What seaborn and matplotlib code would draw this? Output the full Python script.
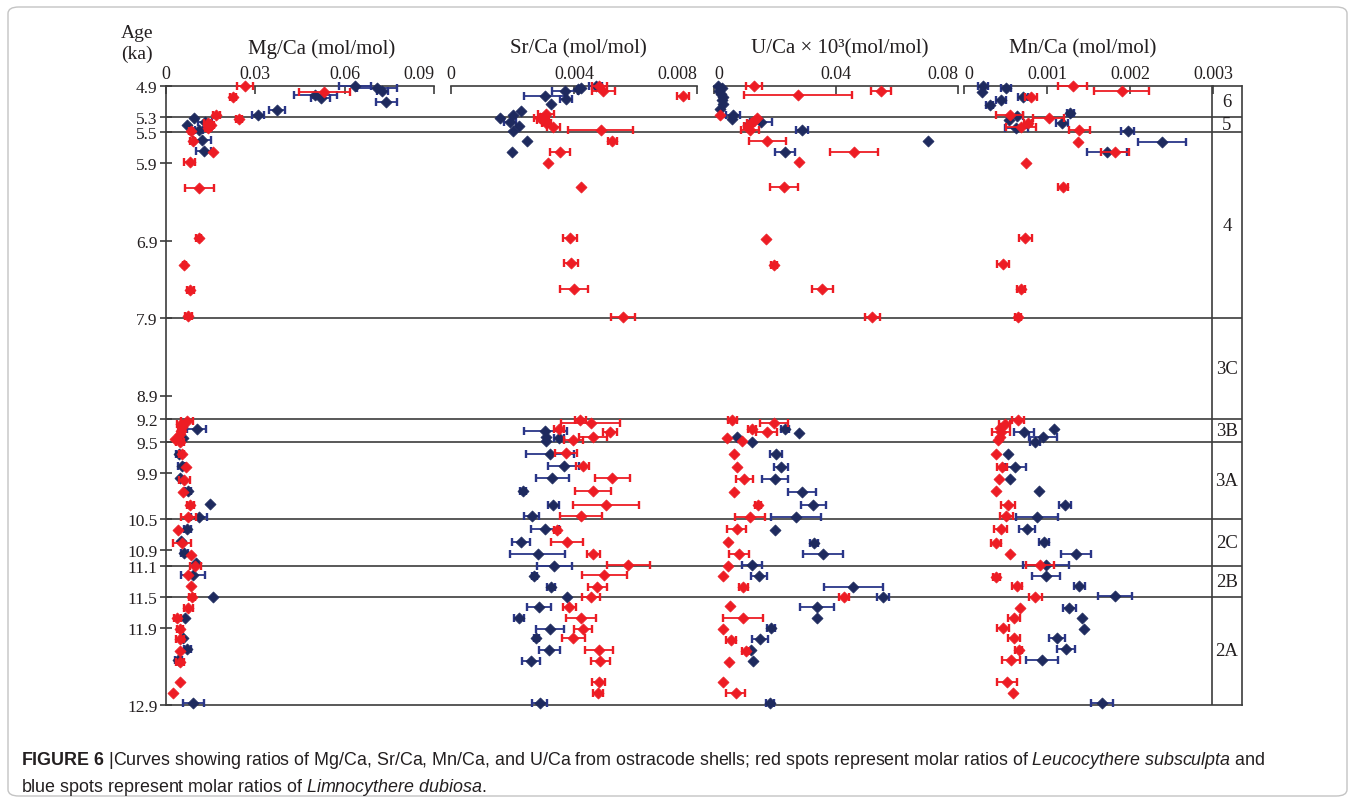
import numpy as np
import pandas as pd
import matplotlib
matplotlib.use("Agg")
import matplotlib.pyplot as plt
import seaborn as sns
from matplotlib.patches import FancyBboxPatch

# Ostracode shell ratios vs age, red = L. subsculpta, blue = L. dubiosa

zone_bounds = [4.9, 5.3, 5.5, 7.9, 9.2, 9.5, 10.5, 11.1, 11.5, 12.9]
zone_names = ["6", "5", "4", "3C", "3B", "3A", "2C", "2B", "2A"]
age_ticks = [4.9, 5.3, 5.5, 5.9, 6.9, 7.9, 8.9, 9.2, 9.5, 9.9, 10.5, 10.9, 11.1, 11.5, 11.9, 12.9]

# --- Mg/Ca ---
mg_red_age = [4.90, 5.04, 4.98, 5.27, 5.33, 5.38, 5.41, 5.44, 5.48, 5.61, 5.75, 5.88, 6.22, 6.87, 7.21,
              7.54, 7.87, 9.23, 9.27, 9.31, 9.36, 9.40, 9.46, 9.50, 9.66, 9.83, 9.99, 10.15, 10.31,
              10.47, 10.64, 10.80, 10.96, 11.10, 11.22, 11.36, 11.51, 11.64, 11.78, 11.92, 12.05,
              12.20, 12.34, 12.60, 12.75]
mg_red_val = [0.0266, 0.0225, 0.0532, 0.0169, 0.0245, 0.0140, 0.0150, 0.0140, 0.0084, 0.0089, 0.0157,
              0.0079, 0.0112, 0.0110, 0.0062, 0.0082, 0.0075, 0.0071, 0.0050, 0.0055, 0.0050, 0.0048,
              0.0030, 0.0047, 0.0053, 0.0067, 0.0062, 0.0056, 0.0081, 0.0075, 0.0041, 0.0053, 0.0083,
              0.0098, 0.0073, 0.0083, 0.0087, 0.0075, 0.0038, 0.0047, 0.0047, 0.0047, 0.0047, 0.0048,
              0.0023]
mg_red_err = [0.0026, 0.0010, 0.0087, 0.0012, 0.0010, 0.0012, 0.0012, 0.0010, 0.0008, 0.0008, 0.0,
              0.0020, 0.0048, 0.0008, 0.0006, 0.0012, 0.0012, 0.0020, 0.0012, 0.0010, 0.0010, 0.0008,
              0.0, 0.0015, 0.0008, 0.0, 0.0018, 0.0, 0.0012, 0.0025, 0.0, 0.0030, 0.0, 0.0018, 0.0,
              0.0, 0.0010, 0.0015, 0.0012, 0.0010, 0.0015, 0.0, 0.0015, 0.0, 0.0]

mg_blue_age = [4.90, 4.92, 4.96, 5.02, 5.06, 5.11, 5.21, 5.27, 5.31, 5.36, 5.41, 5.47, 5.60, 5.74,
               9.33, 9.45, 9.65, 9.81, 9.97, 10.14, 10.30, 10.47, 10.62, 10.78, 10.94, 11.07, 11.22,
               11.50, 11.77, 12.03, 12.18, 12.32, 12.87]
mg_blue_val = [0.0634, 0.0708, 0.0727, 0.0502, 0.0519, 0.0740, 0.0373, 0.0308, 0.0093, 0.0131, 0.0072,
               0.0111, 0.0122, 0.0127, 0.0103, 0.0058, 0.0045, 0.0053, 0.0047, 0.0073, 0.0148, 0.0111,
               0.0072, 0.0050, 0.0061, 0.0101, 0.0092, 0.0159, 0.0064, 0.0056, 0.0072, 0.0041, 0.0092]
mg_blue_err = [0.0053, 0.0068, 0.0017, 0.0071, 0.0033, 0.0035, 0.0026, 0.0020, 0.0, 0.0022, 0.0,
               0.0013, 0.0030, 0.0025, 0.0031, 0.0, 0.0012, 0.0012, 0.0, 0.0010, 0.0, 0.0028, 0.0012,
               0.0, 0.0012, 0.0, 0.0040, 0.0, 0.0, 0.0, 0.0012, 0.0012, 0.0036]

# --- Sr/Ca ---
sr_red_age = [4.90, 4.97, 5.03, 5.26, 5.31, 5.34, 5.38, 5.43, 5.47, 5.61, 5.75, 5.89, 6.21, 6.87, 7.19,
              7.52, 7.88, 9.22, 9.26, 9.33, 9.37, 9.44, 9.48, 9.64, 9.81, 9.97, 10.14, 10.31, 10.46,
              10.64, 10.79, 10.95, 11.09, 11.22, 11.37, 11.51, 11.63, 11.77, 11.92, 12.04, 12.19,
              12.33, 12.60, 12.75]
sr_red_val = [0.00482, 0.00495, 0.00754, 0.00309, 0.00290, 0.00300, 0.00310, 0.00333, 0.00487, 0.00525,
              0.00355, 0.00316, 0.00422, 0.00387, 0.00390, 0.00401, 0.00558, 0.00420, 0.00454, 0.00352,
              0.00517, 0.00461, 0.00398, 0.00374, 0.00428, 0.00525, 0.00461, 0.00504, 0.00422, 0.00344,
              0.00377, 0.00463, 0.00577, 0.00499, 0.00476, 0.00455, 0.00385, 0.00422, 0.00428, 0.00398,
              0.00482, 0.00485, 0.00480, 0.00479]
sr_red_err = [0.00024, 0.00038, 0.00020, 0.00025, 0.00020, 0.00020, 0.00015, 0.00020, 0.00106, 0.00016,
              0.00033, 0.0, 0.0, 0.00023, 0.00023, 0.00046, 0.00039, 0.00018, 0.00096, 0.00016, 0.00022,
              0.00046, 0.00031, 0.00036, 0.00020, 0.00057, 0.00058, 0.00106, 0.00069, 0.00010, 0.00052,
              0.00020, 0.00070, 0.00072, 0.00032, 0.00030, 0.00020, 0.00049, 0.00029, 0.00037, 0.00045,
              0.00031, 0.00020, 0.00016]

sr_blue_age = [4.90, 4.92, 4.94, 4.97, 5.03, 5.07, 5.13, 5.22, 5.27, 5.31, 5.36, 5.42, 5.48, 5.61, 5.75,
               9.36, 9.43, 9.49, 9.45, 9.65, 9.81, 9.97, 10.14, 10.31, 10.46, 10.62, 10.79, 10.95,
               11.10, 11.23, 11.37, 11.51, 11.63, 11.77, 11.92, 12.03, 12.19, 12.33, 12.87]
sr_blue_val = [0.00470, 0.00422, 0.00414, 0.00371, 0.00306, 0.00374, 0.00324, 0.00228, 0.00203, 0.00159,
               0.00192, 0.00222, 0.00201, 0.00248, 0.00197, 0.00306, 0.00308, 0.00308, 0.00351, 0.00322,
               0.00367, 0.00329, 0.00235, 0.00333, 0.00262, 0.00306, 0.00228, 0.00282, 0.00336, 0.00271,
               0.00325, 0.00378, 0.00286, 0.00221, 0.00322, 0.00277, 0.00319, 0.00259, 0.00289]
sr_blue_err = [0.00020, 0.0, 0.0, 0.00043, 0.00070, 0.00020, 0.0, 0.0, 0.0, 0.0, 0.00020, 0.0, 0.0, 0.0,
               0.0, 0.00070, 0.0, 0.0, 0.00016, 0.00077, 0.00050, 0.00054, 0.00010, 0.00018, 0.00025,
               0.00046, 0.00030, 0.00090, 0.00057, 0.00008, 0.00013, 0.0, 0.00040, 0.00016, 0.00046,
               0.00008, 0.00034, 0.00029, 0.00024]

# --- U/Ca x 10^3 ---
u_red_age = [4.90, 4.97, 5.02, 5.28, 5.32, 5.35, 5.38, 5.42, 5.47, 5.61, 5.75, 5.88, 6.21, 6.88, 7.21,
             7.53, 7.88, 9.22, 9.26, 9.33, 9.37, 9.45, 9.49, 9.66, 9.82, 9.98, 10.15, 10.31, 10.47,
             10.63, 10.79, 10.95, 11.10, 11.23, 11.37, 11.51, 11.62, 11.77, 11.92, 12.06, 12.20,
             12.35, 12.60, 12.75]
u_red_val = [0.0131, 0.0548, 0.0274, 0.0020, 0.0140, 0.0130, 0.0120, 0.0110, 0.0118, 0.0175, 0.0459,
             0.0279, 0.0230, 0.0170, 0.0197, 0.0355, 0.0519, 0.0060, 0.0197, 0.0124, 0.0173, 0.0042,
             0.0091, 0.0066, 0.0076, 0.0099, 0.0067, 0.0143, 0.0118, 0.0074, 0.0045, 0.0082, 0.0047,
             0.0028, 0.0096, 0.0426, 0.0052, 0.0096, 0.0031, 0.0055, 0.0104, 0.0049, 0.0031, 0.0071]
u_red_err = [0.0026, 0.0033, 0.0177, 0.0, 0.0, 0.0, 0.0012, 0.0012, 0.0030, 0.0060, 0.0079, 0.0, 0.0046,
             0.0, 0.0010, 0.0034, 0.0025, 0.0015, 0.0045, 0.0013, 0.0034, 0.0, 0.0, 0.0, 0.0, 0.0028,
             0.0, 0.0010, 0.0049, 0.0030, 0.0, 0.0032, 0.0, 0.0, 0.0015, 0.0015, 0.0, 0.0066, 0.0,
             0.0017, 0.0012, 0.0, 0.0, 0.0031]

u_blue_age = [4.90, 4.92, 4.96, 5.00, 5.04, 5.08, 5.13, 5.20, 5.28, 5.33, 5.37, 5.40, 5.47, 5.61, 5.75,
              9.33, 9.38, 9.44, 9.50, 9.65, 9.82, 9.98, 10.15, 10.31, 10.47, 10.64, 10.80, 10.95,
              11.09, 11.23, 11.37, 11.51, 11.63, 11.77, 11.91, 12.05, 12.19, 12.33, 12.87]
u_blue_val = [0.0012, 0.0025, 0.0018, 0.0022, 0.0030, 0.0025, 0.0030, 0.0020, 0.0061, 0.0060, 0.0154,
              0.0110, 0.0288, 0.0701, 0.0233, 0.0233, 0.0279, 0.0074, 0.0124, 0.0203, 0.0220, 0.0200,
              0.0288, 0.0326, 0.0269, 0.0200, 0.0328, 0.0357, 0.0126, 0.0148, 0.0457, 0.0553, 0.0337,
              0.0337, 0.0187, 0.0151, 0.0120, 0.0127, 0.0184]
u_blue_err = [0.0, 0.0, 0.0, 0.0, 0.0, 0.0, 0.0, 0.0, 0.0023, 0.0, 0.0036, 0.0, 0.0020, 0.0, 0.0034,
              0.0013, 0.0, 0.0, 0.0, 0.0020, 0.0023, 0.0043, 0.0045, 0.0040, 0.0082, 0.0, 0.0013,
              0.0066, 0.0033, 0.0027, 0.0097, 0.0020, 0.0056, 0.0, 0.0013, 0.0025, 0.0, 0.0, 0.0013]

# --- Mn/Ca ---
mn_red_age = [4.90, 4.97, 5.04, 5.28, 5.32, 5.38, 5.43, 5.47, 5.62, 5.75, 5.90, 6.21, 6.87, 7.20, 7.52,
              7.88, 9.22, 9.27, 9.32, 9.37, 9.44, 9.48, 9.66, 9.82, 9.98, 10.14, 10.31, 10.46, 10.62,
              10.80, 10.95, 11.09, 11.24, 11.36, 11.51, 11.64, 11.77, 11.91, 12.04, 12.19, 12.32,
              12.60, 12.75]
mn_red_val = [0.00131, 0.00190, 0.00081, 0.00055, 0.00102, 0.00077, 0.00069, 0.00139, 0.00137, 0.00182,
              0.00075, 0.00119, 0.00074, 0.00047, 0.00069, 0.00065, 0.00065, 0.00049, 0.00043, 0.00045,
              0.00043, 0.00041, 0.00039, 0.00046, 0.00042, 0.00039, 0.00053, 0.00051, 0.00044, 0.00039,
              0.00055, 0.00092, 0.00039, 0.00064, 0.00086, 0.00068, 0.00060, 0.00047, 0.00060, 0.00066,
              0.00057, 0.00052, 0.00059]
mn_red_err = [0.000175, 0.00033, 0.00007, 0.00016, 0.00019, 0.00005, 0.00018, 0.00013, 0.0, 0.00017,
              0.0, 0.00006, 0.00008, 0.00007, 0.00005, 0.00004, 0.00007, 0.00007, 0.0, 0.00011, 0.0,
              0.0, 0.0, 0.00006, 0.0, 0.0, 0.00008, 0.00008, 0.00008, 0.00006, 0.0, 0.00017, 0.00004,
              0.00006, 0.00008, 0.0, 0.00007, 0.00007, 0.00007, 0.00004, 0.00011, 0.00012, 0.0]

mn_blue_age = [4.90, 4.93, 4.98, 5.04, 5.08, 5.14, 5.25, 5.29, 5.34, 5.38, 5.44, 5.48, 5.62, 5.75,
               9.33, 9.37, 9.44, 9.50, 9.65, 9.82, 9.98, 10.14, 10.31, 10.47, 10.63, 10.79, 10.95,
               11.09, 11.23, 11.36, 11.49, 11.64, 11.77, 11.92, 12.04, 12.18, 12.32, 12.87]
mn_blue_val = [0.00023, 0.00051, 0.00022, 0.00071, 0.00045, 0.00031, 0.00128, 0.00064, 0.00054, 0.00118,
               0.00063, 0.00197, 0.00239, 0.00172, 0.00108, 0.00072, 0.00095, 0.00086, 0.00053, 0.00062,
               0.00056, 0.00090, 0.00122, 0.00088, 0.00076, 0.00096, 0.00135, 0.00099, 0.00099, 0.00139,
               0.00182, 0.00127, 0.00142, 0.00145, 0.00112, 0.00123, 0.00094, 0.00166]
mn_blue_err = [0.00006, 0.00006, 0.0, 0.00006, 0.00006, 0.00004, 0.00004, 0.00007, 0.0, 0.00007, 0.00014,
               0.00008, 0.00029, 0.00024, 0.0, 0.00012, 0.00017, 0.00006, 0.0, 0.00013, 0.0, 0.0,
               0.00007, 0.00025, 0.00010, 0.00006, 0.00018, 0.00028, 0.00017, 0.00007, 0.00021, 0.00008,
               0.0, 0.0, 0.00010, 0.00011, 0.00019, 0.00013]

panel_titles = ["Mg/Ca (mol/mol)", "Sr/Ca (mol/mol)", "U/Ca × 10³(mol/mol)", "Mn/Ca (mol/mol)"]
panel_ticks = [[0, 0.03, 0.06, 0.09], [0, 0.004, 0.008], [0, 0.04, 0.08], [0, 0.001, 0.002, 0.003]]
panel_ticklabels = [["0", "0.03", "0.06", "0.09"], ["0", "0.004", "0.008"], ["0", "0.04", "0.08"],
                    ["0", "0.001", "0.002", "0.003"]]

RED = "#ed1c24"
BLUE = "#1e2a5e"
BLUE_E = "#2a3688"
LINE = "#3c3c3c"
TXT = "#231f20"

sns.set_theme(style="white")
plt.rcParams["font.family"] = ["Liberation Serif", "DejaVu Serif"]
plt.rcParams["mathtext.fontset"] = "custom"
plt.rcParams["mathtext.rm"] = "Liberation Sans"
plt.rcParams["mathtext.it"] = "Liberation Sans:italic"
plt.rcParams["mathtext.bf"] = "Liberation Sans:bold"

W, H = 1355, 804
fig = plt.figure(figsize=(W / 100, H / 100), dpi=100)


def fx(px):
    return px / W


def fy(py):
    return 1 - py / H


top_px, bot_px = 87, 706
left_px, right_px, zone_px = 166, 1242, 1212

# background frame with zone lines and age axis
bg = fig.add_axes([fx(left_px), fy(bot_px), fx(right_px - left_px), (bot_px - top_px) / H])
bg.set_xlim(0, 1)
bg.set_ylim(zone_bounds[-1], zone_bounds[0])
bg.set_facecolor("none")
for s in ["left", "bottom", "right"]:
    bg.spines[s].set_color(LINE)
    bg.spines[s].set_linewidth(1.2)
bg.spines["top"].set_visible(False)
bg.set_xticks([])
bg.set_yticks(age_ticks)
bg.set_yticklabels([f"{a:.1f}" for a in age_ticks])
bg.tick_params(axis="y", direction="inout", length=9, width=1.2, color=LINE, labelsize=12.5,
               labelcolor=TXT, pad=1.5, left=True)
for b in zone_bounds[1:-1]:
    bg.axhline(b, color=LINE, lw=1.2, zorder=1)
zx = (zone_px - left_px) / (right_px - left_px)
bg.axvline(zx, color=LINE, lw=1.2)
bg.plot([zx, 1], [zone_bounds[0], zone_bounds[0]], color=LINE, lw=1.2, clip_on=False)
for i, name in enumerate(zone_names):
    mid = (zone_bounds[i] + zone_bounds[i + 1]) / 2
    bg.text((zx + 1) / 2, mid, name, ha="center", va="center", fontsize=13.5, color=TXT)

fig.text(fx(121), fy(33), "Age", ha="left", va="center", fontsize=14, color=TXT)
fig.text(fx(121), fy(54), "(ka)", ha="left", va="center", fontsize=14, color=TXT)

panel_px = [(166, 434), (451, 697), (714, 958), (964, 1213)]
title_px = [322, 578, 840, 1083]
series = [
    (mg_red_age, mg_red_val, mg_red_err, mg_blue_age, mg_blue_val, mg_blue_err),
    (sr_red_age, sr_red_val, sr_red_err, sr_blue_age, sr_blue_val, sr_blue_err),
    (u_red_age, u_red_val, u_red_err, u_blue_age, u_blue_val, u_blue_err),
    (mn_red_age, mn_red_val, mn_red_err, mn_blue_age, mn_blue_val, mn_blue_err),
]


def draw_series(ax, age, val, err, color, ecolor, z):
    df = pd.DataFrame({"age": age, "val": val, "err": err})
    e = df[df["err"] > 0]
    ax.errorbar(e["val"], e["age"], xerr=e["err"], fmt="none", ecolor=ecolor, elinewidth=1.3,
                capsize=3, capthick=1.7, zorder=z, clip_on=False)
    sns.scatterplot(data=df, x="val", y="age", ax=ax, marker="D", s=32, color=color,
                    edgecolor=color, linewidth=0.5, zorder=z + 1, clip_on=False)


for k in range(4):
    x0, x1 = panel_px[k]
    ax = fig.add_axes([fx(x0), fy(bot_px), fx(x1 - x0), (bot_px - top_px) / H])
    ax.set_facecolor("none")
    ra, rv, re, ba, bv, be = series[k]
    draw_series(ax, ba, bv, be, BLUE, BLUE_E, 3)
    draw_series(ax, ra, rv, re, RED, RED, 5)
    ax.set_xlim(panel_ticks[k][0], panel_ticks[k][-1])
    ax.set_ylim(zone_bounds[-1], zone_bounds[0])
    ax.set_xlabel("")
    ax.set_ylabel("")
    ax.set_yticks([])
    for s in ["left", "bottom", "right"]:
        ax.spines[s].set_visible(False)
    ax.spines["top"].set_color(LINE)
    ax.spines["top"].set_linewidth(1.2)
    ax.xaxis.set_ticks_position("top")
    ax.set_xticks(panel_ticks[k])
    ax.set_xticklabels(panel_ticklabels[k])
    ax.tick_params(axis="x", top=True, bottom=False, labeltop=True, labelbottom=False,
                   direction="in", length=5.5, width=1.2, color=LINE, labelsize=13,
                   labelcolor=TXT, pad=3)
    labs = ax.get_xticklabels()
    if k in (0, 1, 2):
        labs[-1].set_ha("right")
    if k in (2, 3):
        labs[0].set_ha("left")
    fig.text(fx(title_px[k]), fy(49), panel_titles[k], ha="center", va="center", fontsize=15,
             color=TXT)

# caption
cap1 = (r"$\mathbf{FIGURE\ 6\ }$|Curves showing ratios of Mg/Ca, Sr/Ca, Mn/Ca, and U/Ca from "
        r"ostracode shells; red spots represent molar ratios of $\mathit{Leucocythere\ subsculpta}$ and")
cap2 = r"blue spots represent molar ratios of $\mathit{Limnocythere\ dubiosa}$."
fig.text(fx(21), fy(761), cap1, ha="left", va="center", fontsize=12.9, family="Liberation Sans",
         color=TXT)
fig.text(fx(21), fy(788), cap2, ha="left", va="center", fontsize=12.9, family="Liberation Sans",
         color=TXT)

border = FancyBboxPatch((fx(8), fy(797)), fx(1339), (797 - 8) / H,
                        boxstyle="round,pad=0,rounding_size=0.008", transform=fig.transFigure,
                        fill=False, ec="#c4c4c4", lw=1.0)
fig.patches.append(border)

fig.savefig("out.png", dpi=100)
